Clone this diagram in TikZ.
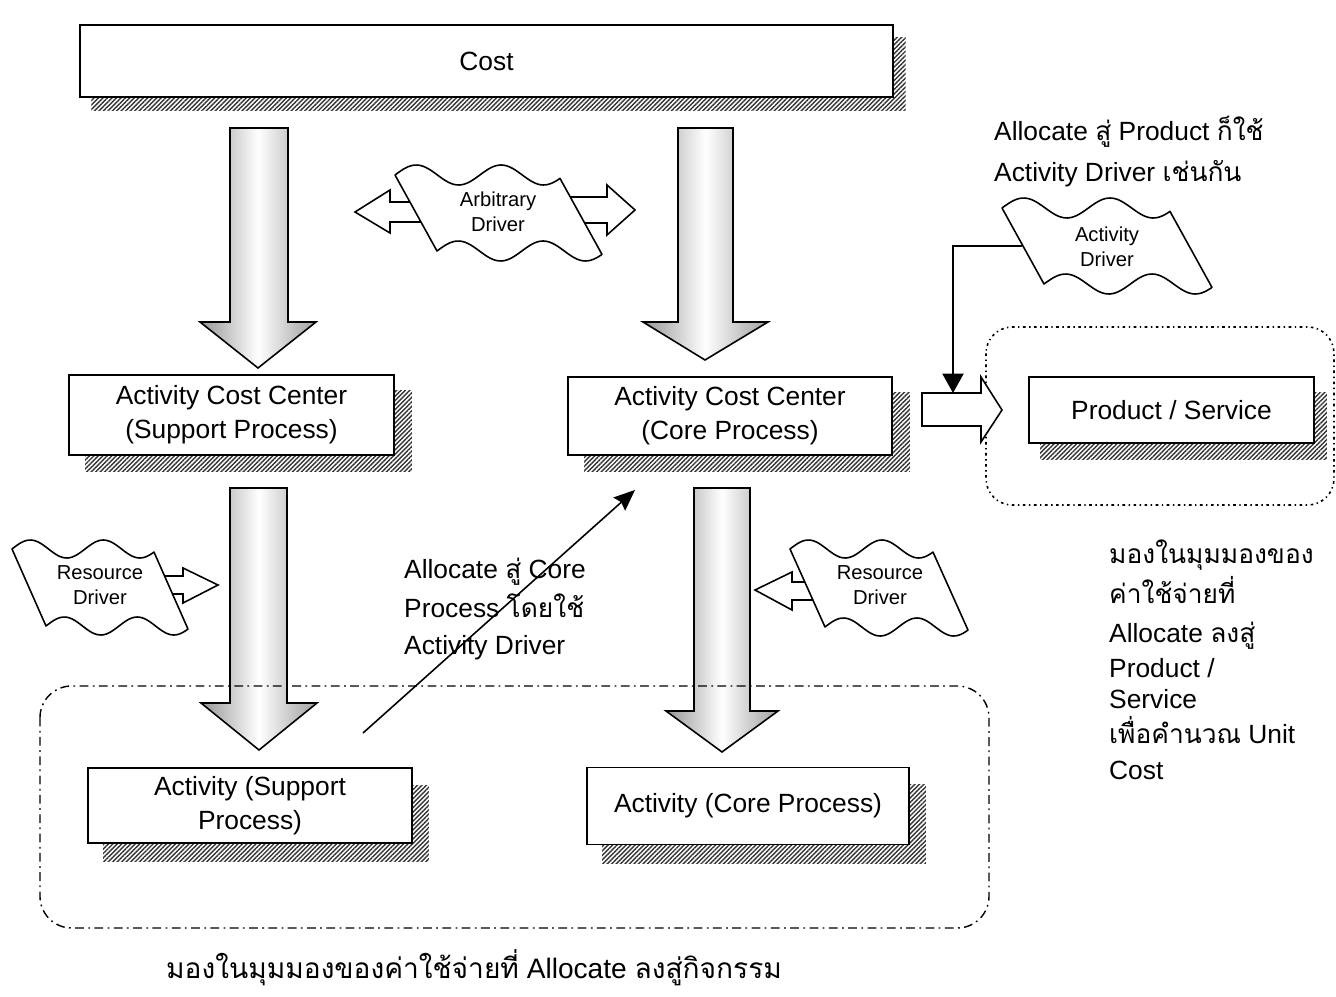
\documentclass[tikz,border=0pt]{standalone}
\usepackage{fontspec}
\setmainfont{Liberation Sans}
\newfontfamily\thai[Script=Thai]{Loma}
\usetikzlibrary{arrows.meta,patterns.meta,backgrounds}
\pgfdeclarehorizontalshading{arrowshade}{100bp}{color(0bp)=(black!55); color(22bp)=(black!45); color(32bp)=(black!30); color(50bp)=(white); color(66bp)=(black!25); color(78bp)=(black!40); color(100bp)=(black!50)}
\newcommand\drawflag[5]{% #1 TL, #2 W, #3 d, #4 h, #5 amplitude
  \begin{scope}[shift={#1}]
  \filldraw[fill=white,line width=0.9pt,line join=round]
    plot[domain=0:#2,samples=60] (\x,{-#5*sin(\x/#2*700)})
    -- plot[domain=#2:0,samples=60] (\x+#3,{#4-#5*sin(\x/#2*700)}) -- cycle;
  \end{scope}}
\tikzset{
  box/.style={draw,fill=white,line width=0.9pt,align=center,inner sep=0pt,
    font=\fontsize{15}{19.5}\selectfont},
  shadowfill/.style={pattern={Lines[angle=45,distance=1.8pt,line width=0.8pt]},pattern color=black!80},
  bigarrow/.style={shading=arrowshade,shading angle=0,draw=black,line width=0.9pt,line join=miter},
  hollow/.style={fill=white,draw=black,line width=0.9pt},
  flagtext/.style={align=center,font=\fontsize{11.5}{14.5}\selectfont},
  note/.style={anchor=base west,font=\fontsize{15}{18}\selectfont},
  dashdot/.style={line width=0.8pt,rounded corners=18pt,dash pattern=on 5pt off 2.5pt on 1pt off 2.5pt},
  dotbox/.style={line width=0.9pt,rounded corners=15pt,dash pattern=on 1.5pt off 2pt on 0.8pt off 2pt},
}
\begin{document}
\begin{tikzpicture}[x=0.02cm,y=-0.02cm]
\useasboundingbox (0,0) rectangle (1336,997);
% big shaded arrows
\shadedraw[bigarrow] (230,128) -- (288,128) -- (288,322) -- (316,322) -- (258,368) -- (200,322) -- (230,322) -- cycle;
\shadedraw[bigarrow] (678,128) -- (733,128) -- (733,322) -- (768,322) -- (705,360) -- (643,322) -- (678,322) -- cycle;
\shadedraw[bigarrow] (230,488) -- (287,488) -- (287,703) -- (317,703) -- (259,750) -- (201,703) -- (230,703) -- cycle;
\shadedraw[bigarrow] (694,488) -- (750,488) -- (750,711) -- (778,711) -- (722,752) -- (666,711) -- (694,711) -- cycle;
% grouping frames
\draw[dashdot] (40,686) rectangle (989,928);
\draw[dotbox] (986,327) rectangle (1334,505);
% hollow arrows
\draw[hollow] (420,202) -- (390,202) -- (390,190) -- (355,212) -- (390,233) -- (390,222) -- (420,222) -- cycle;
\draw[hollow] (555,197) -- (607,197) -- (607,185) -- (635,210) -- (607,235) -- (607,223) -- (555,223) -- cycle;
\draw[hollow] (150,576) -- (183,576) -- (183,568) -- (218,585) -- (183,603) -- (183,594) -- (150,594) -- cycle;
\draw[hollow] (815,582) -- (792,582) -- (792,572) -- (755,590) -- (792,610) -- (792,600) -- (815,600) -- cycle;
\draw[hollow] (922,393) -- (981,393) -- (981,377) -- (1002,410) -- (981,442) -- (981,426) -- (922,426) -- cycle;
% flags
\drawflag{(395,175)}{165}{42}{76}{10}
\drawflag{(1002,208)}{168}{42}{76}{10}
\drawflag{(12,549)}{142}{34}{77}{9}
\drawflag{(790,549)}{143}{35}{78}{9}
\node[flagtext] (arb) at (498,212) {Arbitrary\\Driver};
\node[flagtext] (actd) at (1107,247) {Activity\\Driver};
\node[flagtext] (resl) at (100,585) {Resource\\Driver};
\node[flagtext] (resr) at (880,585) {Resource\\Driver};
% boxes
\node[box,minimum width=16.26cm,minimum height=1.44cm] (cost) at (486.5,61) {Cost};
\node[box,minimum width=6.5cm,minimum height=1.6cm] (acs) at (231.5,415) {Activity Cost Center\\(Support Process)};
\node[box,minimum width=6.48cm,minimum height=1.56cm] (acc) at (730,416) {Activity Cost Center\\(Core Process)};
\node[box,minimum width=5.7cm,minimum height=1.32cm] (ps) at (1171.5,410) {Product / Service};
\node[box,minimum width=6.48cm,minimum height=1.5cm] (as) at (250,805.5) {Activity (Support\\Process)};
\node[box,minimum width=6.44cm,minimum height=1.54cm] (ac) at (748,806) {Activity (Core Process)};
\begin{scope}[on background layer]
\fill[shadowfill] ([shift={(12,13)}]cost.north west) rectangle ([shift={(12,13)}]cost.south east);
\fill[shadowfill] ([shift={(17,16)}]acs.north west) rectangle ([shift={(17,16)}]acs.south east);
\fill[shadowfill] ([shift={(17,16)}]acc.north west) rectangle ([shift={(17,16)}]acc.south east);
\fill[shadowfill] ([shift={(12,16)}]ps.north west) rectangle ([shift={(12,16)}]ps.south east);
\fill[shadowfill] ([shift={(16,18)}]as.north west) rectangle ([shift={(16,18)}]as.south east);
\fill[shadowfill] ([shift={(16,18)}]ac.north west) rectangle ([shift={(16,18)}]ac.south east);
\end{scope}
% connectors
\coordinate (adl) at (1022,246);
\coordinate (hat) at (953,393);
\draw[line width=0.9pt,-{Triangle[length=11pt,width=12pt]}] (adl) -| (hat);
\coordinate (dstart) at (363,733);
\coordinate (dend) at (635,490);
\draw[line width=0.9pt,-{Stealth[length=12pt,width=10pt,inset=1.5pt]}] (dstart) -- (dend);
% texts
\node[note] (n1) at (988,141) {Allocate {\thai สู่} Product {\thai ก็ใช้}};
\node[note] (n2) at (988,181) {Activity Driver {\thai เช่นกัน}};
\node[note] (m1) at (398,578) {Allocate {\thai สู่} Core};
\node[note] (m2) at (398,617) {Process {\thai โดยใช้}};
\node[note] (m3) at (398,654) {Activity Driver};
\node[note] (r1) at (1103,563) {\thai มองในมุมมองของ};
\node[note] (r2) at (1103,603) {\thai ค่าใช้จ่ายที่};
\node[note] (r3) at (1103,642) {Allocate {\thai ลงสู่}};
\node[note] (r4) at (1103,677) {Product /};
\node[note] (r5) at (1103,708) {Service};
\node[note] (r6) at (1103,743) {{\thai เพื่อคำนวณ} Unit};
\node[note] (r7) at (1103,779) {Cost};
\node[note,font=\fontsize{16}{19}\selectfont] (bot) at (160,978) {{\thai มองในมุมมองของค่าใช้จ่ายที่} Allocate {\thai ลงสู่กิจกรรม}};
\end{tikzpicture}
\end{document}
